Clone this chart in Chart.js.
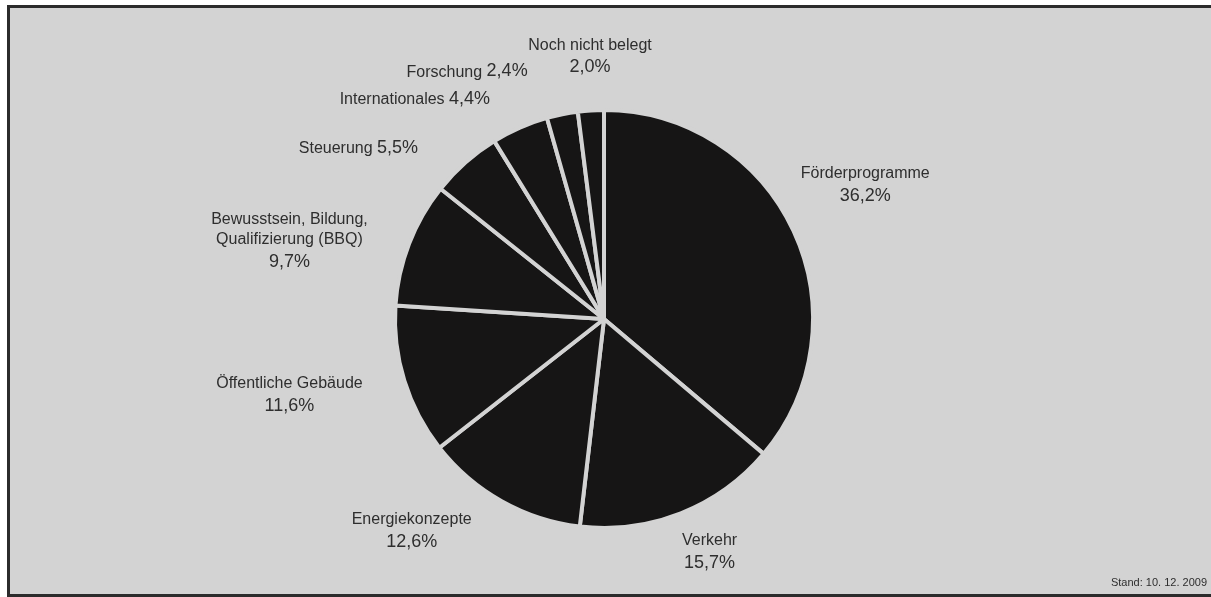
<!DOCTYPE html>
<html>
<head>
<meta charset="utf-8">
<script src="https://cdn.jsdelivr.net/npm/chart.js@4.4.1/dist/chart.umd.min.js"></script>
<style>
  html, body { margin: 0; padding: 0; background: #fff; overflow: hidden; }
  #frame {
    position: absolute; left: 7px; top: 5px; right: -3px; bottom: 0;
    border: 3px solid #2b2b2b; background: #d3d3d3;
  }
  #chart { position: absolute; left: 0; top: 0; }
</style>
</head>
<body>
<div id="frame"></div>
<canvas id="chart" width="1211" height="597"></canvas>
<script>
// Anteile der Budgetbereiche (Prozent), im Uhrzeigersinn ab 12 Uhr
const categories = [
  'Förderprogramme',
  'Verkehr',
  'Energiekonzepte',
  'Öffentliche Gebäude',
  'Bewusstsein, Bildung,\nQualifizierung (BBQ)',
  'Steuerung',
  'Internationales',
  'Forschung',
  'Noch nicht belegt'
];
const shares = [36.2, 15.7, 12.6, 11.6, 9.7, 5.5, 4.4, 2.4, 2.0];
const footnote = 'Stand: 10. 12. 2009';

// label placement relative to pie centre, in units of the radius
const labelPos = [
  [1.25, -0.695, false],
  [0.505, 1.06, false],
  [-0.92, 0.96, false],
  [-1.505, 0.31, false],
  [-1.505, -0.475, false],
  [-1.175, -0.815, true],
  [-0.905, -1.05, true],
  [-0.655, -1.18, true],
  [-0.067, -1.31, false]
];

const fontName = '16px "Liberation Sans", Arial, sans-serif';
const fontPct = '18px "Liberation Sans", Arial, sans-serif';
const textColor = '#2e2e2e';

const fmt = v => v.toFixed(1).replace('.', ',') + '%';

// eigene Beschriftung
const pieLabels = {
  id: 'pieLabels',
  afterDatasetsDraw(chart) {
    const ctx = chart.ctx;
    const arcs = chart.getDatasetMeta(0).data;
    const cx = arcs[0].x, cy = arcs[0].y, r = arcs[0].outerRadius;
    ctx.save();
    ctx.fillStyle = textColor;
    ctx.textBaseline = 'middle';
    categories.forEach((name, i) => {
      const [dx, dy, inline] = labelPos[i];
      const x = cx + dx * r;
      let y = cy + dy * r;
      const pct = fmt(shares[i]);
      if (inline) {
        ctx.font = fontName;
        const w1 = ctx.measureText(name + ' ').width;
        ctx.font = fontPct;
        const w2 = ctx.measureText(pct).width;
        const x0 = x - (w1 + w2) / 2;
        ctx.textAlign = 'left';
        ctx.font = fontName;
        ctx.fillText(name + ' ', x0, y);
        ctx.font = fontPct;
        ctx.fillText(pct, x0 + w1, y - 1);
      } else {
        ctx.textAlign = 'center';
        const lines = name.split('\n');
        ctx.font = fontName;
        lines.forEach((ln, k) => {
          ctx.fillText(ln, x, y + k * 20);
        });
        ctx.font = fontPct;
        ctx.fillText(pct, x, y + (lines.length - 1) * 20 + 22);
      }
    });
    // Stand
    ctx.font = '11px "Liberation Sans", Arial, sans-serif';
    ctx.textAlign = 'right';
    ctx.fillText(footnote, 1207, 583);
    ctx.restore();
  }
};

new Chart(document.getElementById('chart'), {
  type: 'pie',
  data: {
    labels: categories,
    datasets: [{
      data: shares,
      backgroundColor: '#161515',
      borderColor: '#d3d3d3',
      borderWidth: 4
    }]
  },
  options: {
    responsive: false,
    animation: false,
    layout: { padding: { top: 108, bottom: 67, left: 0, right: 3 } },
    plugins: {
      legend: { display: false },
      tooltip: { enabled: false }
    }
  },
  plugins: [pieLabels]
});
</script>
</body>
</html>
